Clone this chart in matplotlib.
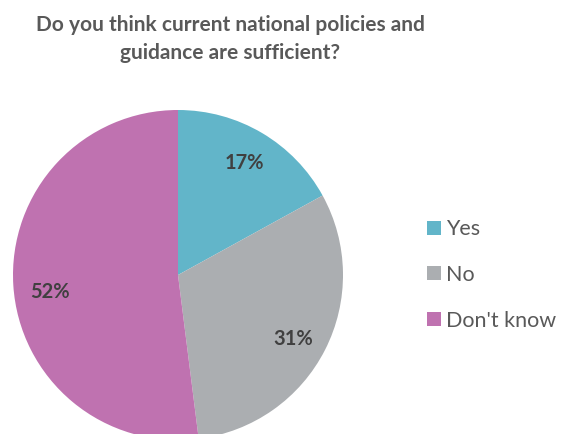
import matplotlib
matplotlib.use("Agg")
import matplotlib.pyplot as plt
from matplotlib.patches import Patch
import numpy as np

categories = ["Yes", "No", "Don't know"]
values = [17, 31, 52]
colors = ["#62B5C9", "#ABAEB1", "#BF72B0"]
title = "Do you think current national policies and\nguidance are sufficient?"

W, H = 569, 434
fig = plt.figure(figsize=(W / 100, H / 100), dpi=100)
cx, cy, r = 178, 275, 165
ax = fig.add_axes([(cx - r) / W, (H - cy - r) / H, 2 * r / W, 2 * r / H])
wedges, _, autotexts = ax.pie(values, colors=colors, startangle=90, counterclock=False,
                              autopct=lambda p: f"{p:.0f}%", pctdistance=0.78,
                              wedgeprops=dict(linewidth=0),
                              textprops=dict(fontsize=14.5, fontweight="bold", color="#404040",
                                             family="Lato"))
# small label nudges (angle offset in degrees, distance) to mimic best-fit placement
nudges = [(0, 0.79), (-2, 0.80), (4, 0.78)]
for w, t, (da, d) in zip(wedges, autotexts, nudges):
    ang = np.deg2rad((w.theta1 + w.theta2) / 2 + da)
    t.set_position((d * np.cos(ang), d * np.sin(ang)))
ax.set_xlim(-1, 1)
ax.set_ylim(-1, 1)
ax.set_aspect("equal")
ax.axis("off")

fig.text(230 / W, 1 - 39 / H, title, ha="center", va="center", fontsize=15,
         fontweight="bold", color="#595959", family="Lato", linespacing=1.5)

handles = [Patch(facecolor=c, edgecolor="none") for c in colors]
fig.legend(handles, categories, loc="center left", bbox_to_anchor=(408 / W, 1 - 275 / H),
           frameon=False, labelcolor="#595959", handlelength=0.62,
           handleheight=0.62, handletextpad=0.25, labelspacing=1.2,
           prop=dict(family="Lato", size=15.5))

fig.savefig("out.png", dpi=100)
